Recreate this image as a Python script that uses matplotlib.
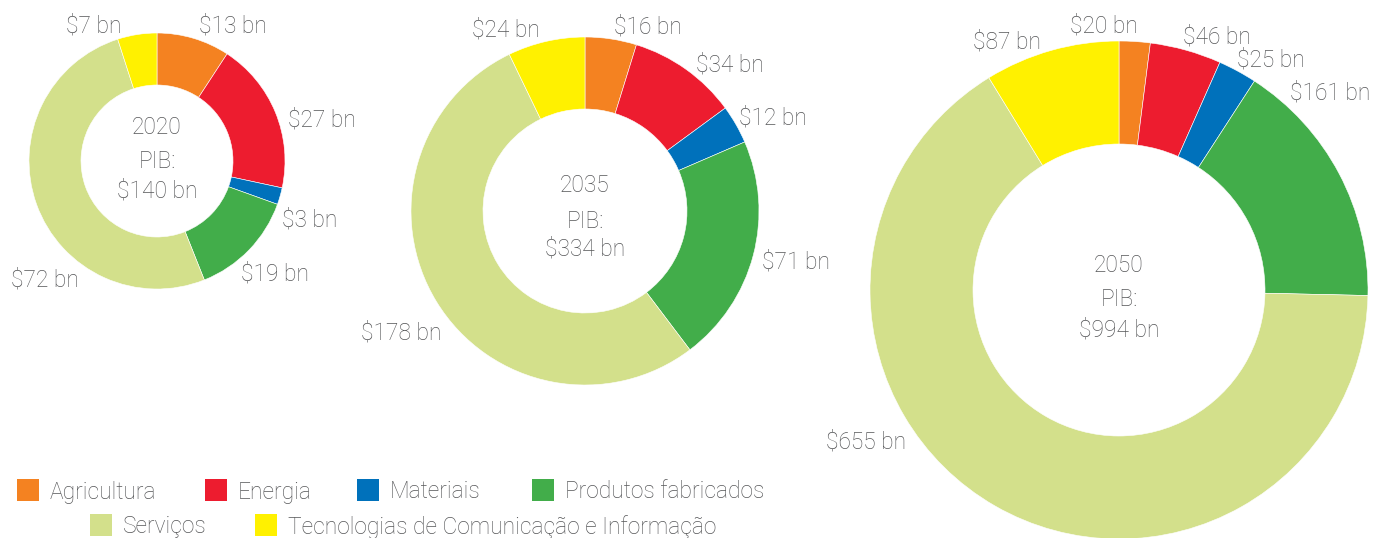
import matplotlib
matplotlib.use("Agg")
import matplotlib.pyplot as plt
from matplotlib.patches import Rectangle

# ---- data -------------------------------------------------------------
categories = ["Agricultura", "Energia", "Materiais", "Produtos fabricados",
              "Serviços", "Tecnologias de Comunicação e Informação"]
colors = ["#F48221", "#ED1C2F", "#0071BB", "#42AD4A", "#D3E08B", "#FFF100"]

years = ["2020", "2035", "2050"]
gdp_totals = [140, 334, 994]
values_2020 = [13, 27, 3, 19, 72, 7]
values_2035 = [16, 34, 12, 71, 178, 24]
values_2050 = [20, 46, 25, 161, 655, 87]
series = [values_2020, values_2035, values_2050]

# ---- layout (pixel coordinates, y grows downward) ---------------------
W, H = 1373, 538
centers = [(157, 161), (585, 211), (1119, 290)]
outer_r = [128, 174, 249]
inner_r = [76, 102, 146]
center_text_y = [(125, 160, 189), (183, 220, 247), (263, 298, 328)]
label_xy = [
    [(233, 24), (322, 118), (310, 218), (275, 272), (45, 278), (94, 24)],
    [(648, 25), (730, 63), (773, 116), (796, 260), (401, 331), (506, 28)],
    [(1104, 24), (1217, 35), (1271, 58), (1330, 91), (866, 440), (1007, 40)],
]
legend_rows = [[(17, 490), (205, 490), (357, 490), (532, 490)],
               [(90, 525), (255, 525)]]
swatch = 22
text_gap = 33
dy = 2  # nudge text down so glyphs sit on the intended line centre

TEXT = "#555658"
plt.rcParams["font.family"] = ["Roboto", "DejaVu Sans"]
FS = 16.4
FW = "light"

fig = plt.figure(figsize=(W / 100, H / 100), dpi=100)
ax = fig.add_axes([0, 0, 1, 1])

for vals, c, ro, ri, year, tot, ty, lxy in zip(series, centers, outer_r, inner_r,
                                                years, gdp_totals, center_text_y,
                                                label_xy):
    ax.pie(vals, colors=colors, center=c, radius=ro, startangle=-90,
           counterclock=True,
           wedgeprops=dict(width=ro - ri, edgecolor="white", linewidth=0.4))
    ax.text(c[0], ty[0] + dy, year, ha="center", va="center", fontsize=FS,
            color=TEXT, fontweight=FW)
    ax.text(c[0], ty[1] + dy, "PIB:", ha="center", va="center", fontsize=FS,
            color=TEXT, fontweight=FW)
    ax.text(c[0], ty[2] + dy, f"${tot} bn", ha="center", va="center",
            fontsize=FS, color=TEXT, fontweight=FW)
    for v, (x, y) in zip(vals, lxy):
        ax.text(x, y + dy, f"${v} bn", ha="center", va="center", fontsize=FS,
                color=TEXT, fontweight=FW)

# legend
positions = [p for row in legend_rows for p in row]
for name, col, (x, y) in zip(categories, colors, positions):
    ax.add_patch(Rectangle((x, y - swatch / 2), swatch, swatch,
                           facecolor=col, edgecolor="none"))
    ax.text(x + text_gap, y + dy, name, ha="left", va="center", fontsize=FS,
            color=TEXT, fontweight=FW)

ax.set_xlim(0, W)
ax.set_ylim(H, 0)
ax.set_aspect("equal")
ax.axis("off")

fig.savefig("out.png", dpi=100, facecolor="white")
